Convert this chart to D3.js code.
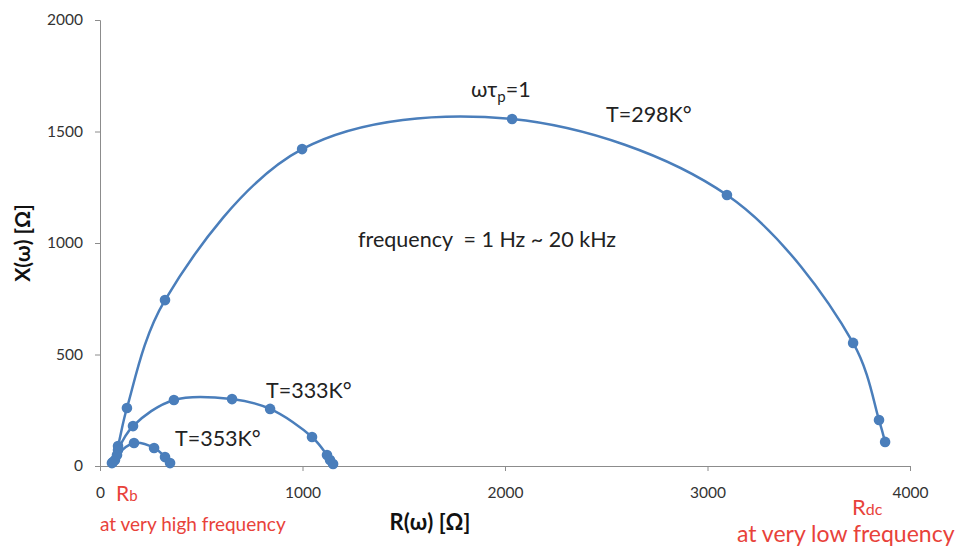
<!DOCTYPE html>
<html>
<head>
<meta charset="utf-8">
<script src="https://cdn.jsdelivr.net/npm/d3@7"></script>
<style>
  html, body { margin: 0; padding: 0; background: #fff; }
  svg { display: block; }
  text { font-family: Lato, "Open Sans", sans-serif; white-space: pre; }
</style>
</head>
<body>
<div id="chart"></div>
<script>
// ---- Data ----
const r298 = [64, 89, 133, 321, 998, 2035, 3096, 3719, 3847, 3877];
const x298 = [18, 90, 260, 744, 1421, 1556, 1215, 552, 206, 108];

const r333 = [74, 89, 163, 365, 652, 840, 1047, 1121, 1136, 1151];
const x333 = [27, 72, 179, 296, 300, 256, 130, 49, 27, 9];

const r353 = [59, 84, 168, 267, 321, 346];
const x353 = [13, 49, 103, 81, 40, 13];

const xTicks = [0, 1000, 2000, 3000, 4000];
const yTicks = [0, 500, 1000, 1500, 2000];

const seriesNames = ["T=298K°", "T=333K°", "T=353K°"];

// ---- Layout ----
const W = 960, H = 549;
const svg = d3.select("#chart").append("svg").attr("width", W).attr("height", H);

const x = d3.scaleLinear().domain([0, 4000]).range([100, 910]);
const y = d3.scaleLinear().domain([0, 2000]).range([466, 20]);

const axisColor = "#8c8c8c";
const tickFont = "15.5px";

// Y axis
const yAxis = svg.append("g").attr("transform", `translate(${x(0)},0)`)
  .call(d3.axisLeft(y).tickValues(yTicks).tickSize(5).tickPadding(12).tickFormat(d3.format("d")));
yAxis.select(".domain").attr("stroke", axisColor);
yAxis.selectAll(".tick line").attr("stroke", axisColor);
yAxis.selectAll(".tick text").attr("fill", "#333").style("font-size", tickFont).style("font-family", "Lato, sans-serif");

// X axis
const xAxis = svg.append("g").attr("transform", `translate(0,${y(0)})`)
  .call(d3.axisBottom(x).tickValues(xTicks).tickSize(5).tickPadding(16).tickFormat(d3.format("d")));
xAxis.select(".domain").attr("stroke", axisColor);
xAxis.selectAll(".tick line").attr("stroke", axisColor);
xAxis.selectAll(".tick text").attr("fill", "#333").style("font-size", tickFont).style("font-family", "Lato, sans-serif");

// Series
const color = "#4a7ebb";
const line = d3.line().x(d => x(d[0])).y(d => y(d[1])).curve(d3.curveCatmullRom.alpha(0.5));

const series = [
  d3.zip(r298, x298),
  d3.zip(r333, x333),
  d3.zip(r353, x353)
];

series.forEach(pts => {
  svg.append("path").datum(pts)
    .attr("d", line)
    .attr("fill", "none")
    .attr("stroke", color)
    .attr("stroke-width", 2.5);
  svg.append("g").selectAll("circle").data(pts).join("circle")
    .attr("cx", d => x(d[0]))
    .attr("cy", d => y(d[1]))
    .attr("r", 5.3)
    .attr("fill", color);
});

// Axis titles
svg.append("text")
  .attr("transform", `translate(30,243) rotate(-90)`)
  .attr("text-anchor", "middle")
  .style("font-size", "21px").style("font-weight", "bold").attr("fill", "#111")
  .text("X(ω) [Ω]");

svg.append("text")
  .attr("x", 430).attr("y", 530)
  .attr("text-anchor", "middle")
  .style("font-size", "22px").style("font-weight", "bold").attr("fill", "#111")
  .text("R(ω) [Ω]");

// Annotations
const annoStyle = s => s.style("font-size", "21.5px").attr("fill", "#222");

const wt = svg.append("text").attr("x", 471).attr("y", 97).call(annoStyle);
wt.append("tspan").text("ωτ");
wt.append("tspan").attr("dy", 5).style("font-size", "15px").text("p");
wt.append("tspan").attr("dy", -5).text("=1");

svg.append("text").attr("x", 606).attr("y", 122).call(annoStyle).text(seriesNames[0]);
svg.append("text").attr("x", 358).attr("y", 247).call(annoStyle).text("frequency  = 1 Hz ~ 20 kHz");
svg.append("text").attr("x", 266).attr("y", 398).call(annoStyle).text(seriesNames[1]);
svg.append("text").attr("x", 175).attr("y", 446).call(annoStyle).text(seriesNames[2]);

// Red annotations
const red = "#e8423a";
const rb = svg.append("text").attr("x", 116).attr("y", 501).style("font-size", "21px").attr("fill", red);
rb.append("tspan").text("R");
rb.append("tspan").style("font-size", "15px").text("b");
svg.append("text").attr("x", 100).attr("y", 531).style("font-size", "19px").attr("fill", red).text("at very high frequency");

const rdc = svg.append("text").attr("x", 852).attr("y", 515).style("font-size", "22px").attr("fill", red);
rdc.append("tspan").text("R");
rdc.append("tspan").style("font-size", "16px").text("dc");
svg.append("text").attr("x", 737).attr("y", 542).style("font-size", "23px").attr("fill", red).text("at very low frequency");
</script>
</body>
</html>
